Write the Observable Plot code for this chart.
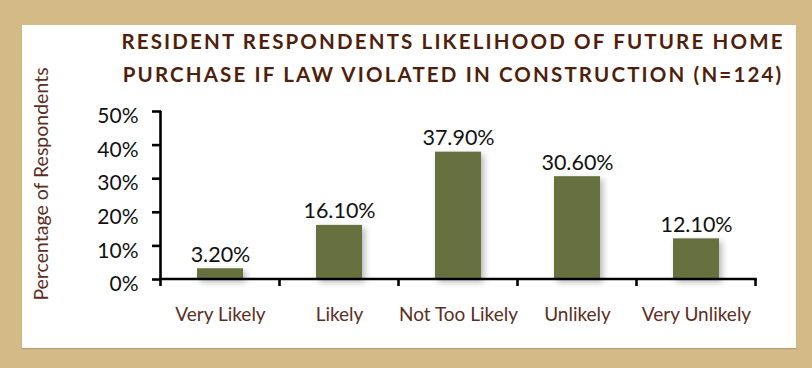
<!DOCTYPE html>
<html>
<head>
<meta charset="utf-8">
<script src="https://cdn.jsdelivr.net/npm/d3@7"></script>
<script src="https://cdn.jsdelivr.net/npm/@observablehq/plot@0.6"></script>
<style>
  html, body { margin: 0; padding: 0; }
  body { width: 812px; height: 368px; background: #D3BA87; position: relative; overflow: hidden; font-family: Lato, "Open Sans", sans-serif; }
  #panel { position: absolute; left: 22px; top: 25px; width: 774px; height: 323px; background: #fff; box-shadow: 0 1px 1px rgba(0,0,0,0.15); }
  #title { position: absolute; left: 0; width: 906px; top: 25px; text-align: center; color: #4F1F0B; font-weight: bold; font-size: 20.5px; line-height: 33px; letter-spacing: 2.15px; }
  #ylabel { position: absolute; left: 40px; top: 184px; transform: translate(-50%, -50%) rotate(-90deg); white-space: nowrap; color: #5C2E1E; font-size: 19.5px; }
  #chart { position: absolute; left: 0; top: 0; }
  g[aria-label="bar"] rect { filter: drop-shadow(3px 3px 3px rgba(0,0,0,0.28)); }
</style>
</head>
<body>
<div id="panel"></div>
<div id="title">RESIDENT RESPONDENTS LIKELIHOOD OF FUTURE HOME<br>PURCHASE IF LAW VIOLATED IN CONSTRUCTION (N=124)</div>
<div id="ylabel">Percentage of Respondents</div>
<div id="chart"></div>
<script>
const categories = ["Very Likely", "Likely", "Not Too Likely", "Unlikely", "Very Unlikely"];
const values = [3.2, 16.1, 37.9, 30.6, 12.1];
const valueLabels = ["3.20%", "16.10%", "37.90%", "30.60%", "12.10%"];
const yTicks = [0, 10, 20, 30, 40, 50];

const data = categories.map((c, i) => ({category: c, value: values[i], label: valueLabels[i]}));

function axisLines() {
  return (index, scales, values, dims) => {
    const x = scales.x, y = scales.y;
    const step = x.step(), bw = x.bandwidth();
    const gap = (step - bw) / 2;
    const y0 = y(0);
    const g = d3.create("svg:g").attr("stroke", "#000").attr("stroke-width", 2.6).attr("fill", "none");
    const bounds = categories.map(c => x(c) - gap);
    bounds.push(x(categories[categories.length - 1]) + bw + gap);
    for (const b of bounds) {
      g.append("line").attr("x1", b).attr("x2", b).attr("y1", y0).attr("y2", y0 + 7);
    }
    g.append("line").attr("x1", bounds[0]).attr("x2", bounds[0]).attr("y1", y(50)).attr("y2", y0);
    g.append("line").attr("x1", bounds[0] - 1.3).attr("x2", bounds[bounds.length - 1] + 1.3).attr("y1", y0).attr("y2", y0);
    return g.node();
  };
}

const plot = Plot.plot({
  width: 812,
  height: 368,
  marginLeft: 161,
  marginRight: 56,
  marginTop: 111,
  marginBottom: 89,
  style: {background: "transparent", fontFamily: "Lato, 'Open Sans', sans-serif", overflow: "visible"},
  x: {domain: categories, paddingInner: 0.61, paddingOuter: 0.305, label: null},
  y: {domain: [0, 50], label: null},
  marks: [
    Plot.barY(data, {x: "category", y: "value", fill: "#67713F"}),
    Plot.text(data, {x: "category", y: "value", text: "label", dy: -7, lineAnchor: "bottom", fontSize: 21.5, fill: "#111"}),
    Plot.axisY({ticks: yTicks, tickSize: 9, strokeWidth: 2.6, stroke: "#000", text: null, label: null}),
    Plot.axisY({ticks: yTicks, tickFormat: d => d + "%", tickSize: 0, tickPadding: 23, fontSize: 21, fill: "#111", dy: 5, label: null}),
    Plot.axisX({tickSize: 0, tickPadding: 28, fontSize: 19, fill: "#5C2E1E", label: null}),
    axisLines()
  ]
});
document.getElementById("chart").appendChild(plot);
</script>
</body>
</html>
